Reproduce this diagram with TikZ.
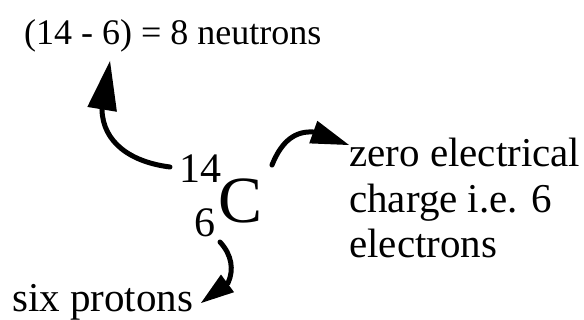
\documentclass[tikz,border=0pt]{standalone}
\usepackage{fontspec}
\setmainfont{Liberation Serif}
\usetikzlibrary{arrows.meta,calc}
\begin{document}
\begin{tikzpicture}[x=1pt,y=-1pt,
  lbl/.style={inner sep=0pt, anchor=base west, font=\fontsize{41}{45.5}\selectfont, align=left},
  arr/.style={line width=5pt, line cap=round}]
\useasboundingbox (0,0) rectangle (584,320);
\node[lbl, font=\fontsize{36}{40}\selectfont] (neut) at (24,45) {(14 - 6) = 8 neutrons};
\node[lbl, font=\fontsize{42}{46}\selectfont] (mass) at (179,183) {14};
\node[lbl, font=\fontsize{42}{46}\selectfont] (num) at (194,237) {6};
\node[lbl, font=\fontsize{66}{70}\selectfont] (sym) at (218,223) {C};
% base anchor of a multi-line node is the last line's baseline
\node[lbl] (elec) at (349,258) {zero electrical\\charge i.e. 6\\electrons};
\node[lbl] (prot) at (12,312) {six protons};
% arrow to neutrons
\coordinate (a1s) at (170,167);
\coordinate (a1b) at (102,110);
\coordinate (a1t) at (110,61);
\draw[arr, -{Triangle[length=49pt,width=30pt,line width=0pt]}]
  (a1s) .. controls (130,162) and (103,142) .. (a1b) -- (a1t);
% arrow to electrons
\coordinate (a2s) at (272,165);
\coordinate (a2b) at (313,132);
\coordinate (a2t) at (349,145);
\draw[arr, -{Triangle[length=38pt,width=24pt,line width=0pt]}]
  (a2s) .. controls (282,140) and (296,131) .. (a2b) -- (a2t);
% arrow to protons
\coordinate (a3s) at (220,242);
\coordinate (a3b) at (228,283);
\coordinate (a3t) at (201,303);
\draw[arr, -{Triangle[length=33pt,width=22pt,line width=0pt]}]
  (a3s) .. controls (232,255) and (234,270) .. (a3b) -- (a3t);
\end{tikzpicture}
\end{document}
